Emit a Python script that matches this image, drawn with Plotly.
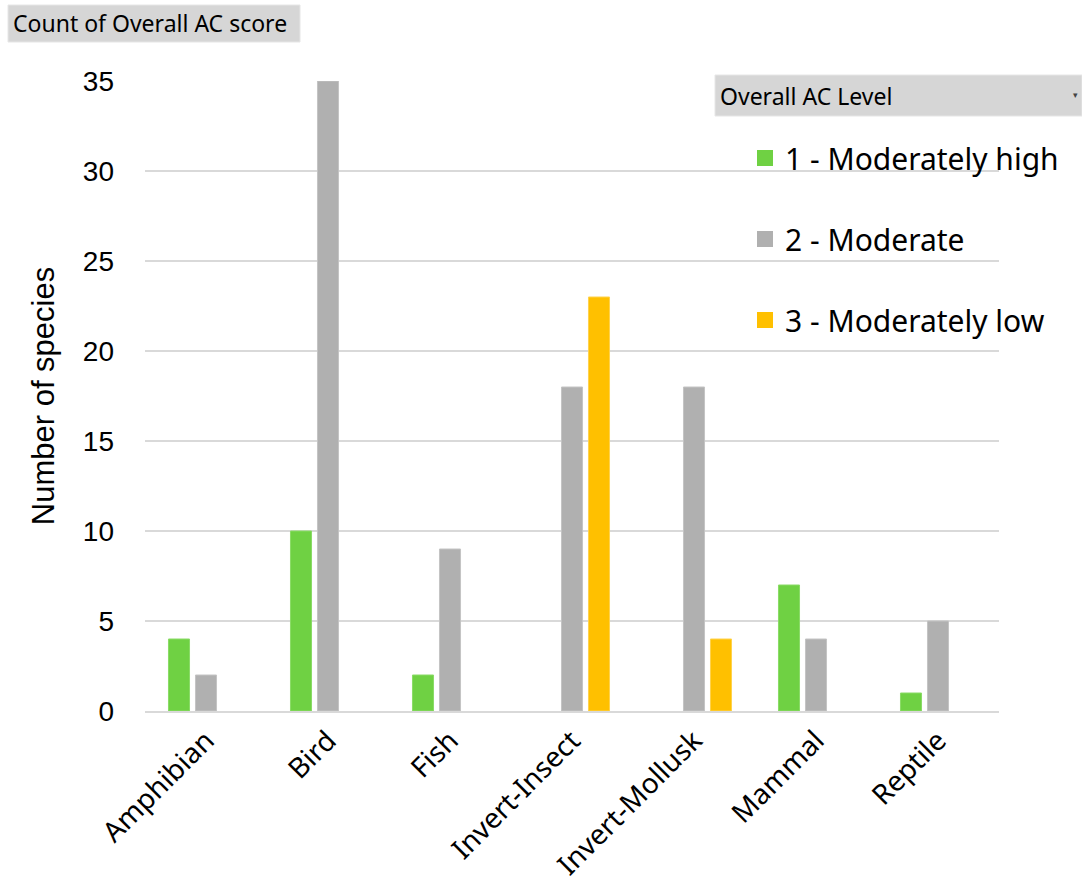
import plotly.graph_objects as go

categories = ["Amphibian", "Bird", "Fish", "Invert-Insect", "Invert-Mollusk", "Mammal", "Reptile"]
moderately_high = [4, 10, 2, None, None, 7, 1]
moderate = [2, 35, 9, 18, 18, 4, 5]
moderately_low = [None, None, None, 23, 4, None, None]

series_names = ["1 - Moderately high", "2 - Moderate", "3 - Moderately low"]
series_colors = ["#6FD143", "#B0B0B0", "#FFC000"]
series_edges = ["#8ADB66", "#C4C4C4", "#FFD24D"]

W, H = 1082, 886
L, R, T, B = 145, 83, 81, 175
PW, PH = W - L - R, H - T - B


def px(x):
    return (x - L) / PW


def py(y):
    return (H - B - y) / PH


fig = go.Figure()
for i, (name, vals) in enumerate(zip(series_names, [moderately_high, moderate, moderately_low])):
    fig.add_trace(go.Bar(
        x=categories, y=vals, name=name, showlegend=False,
        marker=dict(color=series_colors[i], line=dict(color=series_edges[i], width=1)),
    ))
# legend entries (bigger square keys)
for i, name in enumerate(series_names):
    fig.add_trace(go.Scatter(
        x=[categories[0]], y=[None], name=name, mode="markers",
        marker=dict(symbol="square", size=16, color=series_colors[i]),
        legendgroup=f"g{i}", hoverinfo="skip",
    ))

fig.update_layout(
    width=W, height=H,
    margin=dict(l=L, r=R, t=T, b=B, pad=0),
    paper_bgcolor="white", plot_bgcolor="white",
    barmode="group", bargap=0.336, bargroupgap=0.22,
    font=dict(family="Liberation Sans, Arial", color="#000000"),
    xaxis=dict(
        tickangle=-45, tickfont=dict(size=28, family="Noto Sans, Open Sans"),
        showline=True, linecolor="#D9D9D9", linewidth=2, ticks="",
        showgrid=False, automargin=False,
    ),
    yaxis=dict(
        range=[0, 35], dtick=5, tickfont=dict(size=28, family="Liberation Sans, Arial"),
        showgrid=True, gridcolor="#D9D9D9", gridwidth=1.5, zeroline=False,
        ticks="", ticklabelstandoff=30, automargin=False,
        title=dict(text="Number of species", font=dict(size=31, family="Liberation Sans Narrow, Arial Narrow, Liberation Sans"), standoff=18),
    ),
    legend=dict(
        x=px(745), y=py(132), xanchor="left", yanchor="top",
        font=dict(size=30, family="Noto Sans, Open Sans"),
        bgcolor="rgba(0,0,0,0)", tracegroupgap=39, traceorder="grouped",
        itemclick=False,
    ),
    showlegend=True,
)

# Pivot field buttons
fig.add_shape(type="rect", xref="paper", yref="paper",
              x0=px(8), x1=px(300), y0=py(42), y1=py(5),
              fillcolor="#D6D6D6", line=dict(color="#E6E6E6", width=1), layer="above")
fig.add_annotation(text="Count of Overall AC score", xref="paper", yref="paper",
                   x=px(11), y=py(23), xanchor="left", yanchor="middle", showarrow=False,
                   font=dict(size=23, family="Noto Sans, DejaVu Sans", color="#000000"))
fig.add_shape(type="rect", xref="paper", yref="paper",
              x0=px(715), x1=px(1082), y0=py(116), y1=py(75),
              fillcolor="#D6D6D6", line=dict(color="#E6E6E6", width=1), layer="above")
fig.add_annotation(text="Overall AC Level", xref="paper", yref="paper",
                   x=px(718), y=py(96), xanchor="left", yanchor="middle", showarrow=False,
                   font=dict(size=23, family="Noto Sans, DejaVu Sans", color="#000000"))
fig.add_annotation(text="▾", xref="paper", yref="paper",
                   x=px(1075), y=py(95), xanchor="center", yanchor="middle", showarrow=False,
                   font=dict(size=9, color="#444444"))

fig.write_html("out.html")
